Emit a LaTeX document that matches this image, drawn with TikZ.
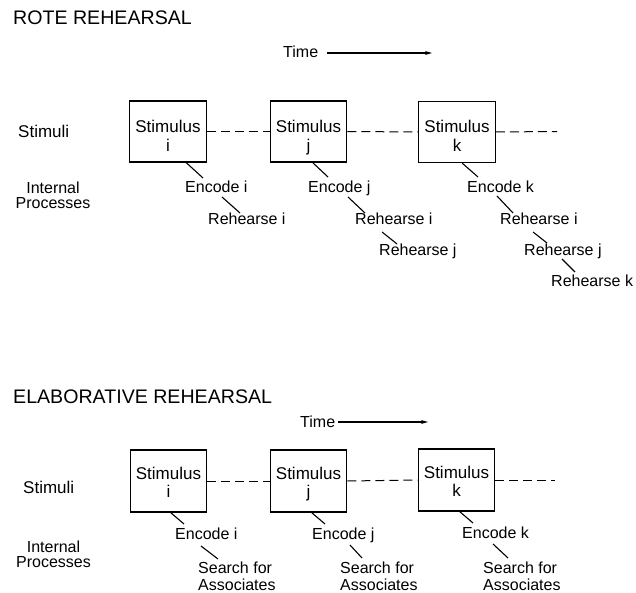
\documentclass[tikz,border=0pt]{standalone}
\usepackage{fontspec}
\setmainfont{Liberation Sans}
\usetikzlibrary{calc,arrows.meta}
\begin{document}
\begin{tikzpicture}[x=1pt,y=-1pt,
  lbl/.style={inner sep=0pt, anchor=base west, font=\fontsize{16}{17}\selectfont},
  side/.style={inner sep=0pt, anchor=base west, font=\fontsize{17}{18}\selectfont},
  proc/.style={inner sep=0pt, anchor=north, align=center, font=\fontsize{16}{15.5}\selectfont},
  sa/.style={inner sep=0pt, anchor=north west, align=left, font=\fontsize{16}{17}\selectfont},
  ttl/.style={inner sep=0pt, anchor=base west, font=\fontsize{19.6}{22}\selectfont},
  stimbox/.style={draw, line width=1.2pt, minimum width=76.5pt, minimum height=61pt, inner sep=0pt, align=center, text height=32pt, text depth=0pt, font=\fontsize{17}{18}\selectfont},
  stimboxtop/.style={stimbox, text height=40pt, font=\fontsize{17}{19}\selectfont},
  conn/.style={line width=1.1pt},
  dashline/.style={line width=1pt, dash pattern=on 9pt off 5pt},
  timearrow/.style={line width=1.2pt, -{Stealth[length=7pt,width=4pt]}},
]
\useasboundingbox (0,0) rectangle (636,593);

% ---------------- ROTE REHEARSAL ----------------
\node[ttl] (t1) at (13,25) {ROTE REHEARSAL};
\node[lbl] (time1) at (283,58) {Time};
\coordinate (tend1) at (432,53);
\draw[timearrow] ($(time1.base east)+(8.5,-5)$) -- (tend1);

\node[side] (stim1) at (18,138) {Stimuli};
\node[proc] (ip1) at (53,181.5) {Internal\\Processes};

\node[stimboxtop] (si) at (168,131.5) {Stimulus\\i};
\node[stimboxtop] (sj) at (308.5,131.5) {Stimulus\\j};
\node[stimboxtop] (sk) at (457,132) {Stimulus\\k};
\coordinate (dend1) at (557,131.5);
\draw[dashline] (si.east) -- (sj.west);
\draw[dashline] (sj.east) -- (sk.west);
\draw[dashline] (sk.east) -- (dend1);

\node[lbl] (ei) at (185,193) {Encode i};
\node[lbl] (ri1) at (208,225) {Rehearse i};
\node[lbl] (ej) at (308,193) {Encode j};
\node[lbl] (rij) at (355,225) {Rehearse i};
\node[lbl] (rjj) at (379,256) {Rehearse j};
\node[lbl] (ek) at (467,193) {Encode k};
\node[lbl] (rik) at (500,225) {Rehearse i};
\node[lbl] (rjk) at (524,256) {Rehearse j};
\node[lbl] (rkk) at (551,287) {Rehearse k};

\draw[conn] ($(si.south west)+(57,0)$) -- ($(ei.base west)+(18,-15)$);
\draw[conn] ($(ei.base west)+(37,4)$) -- ($(ri1.base west)+(32,-12)$);
\draw[conn] ($(sj.south west)+(43,0)$) -- ($(ej.base west)+(20,-16)$);
\draw[conn] ($(ej.base west)+(40,4)$) -- ($(rij.base west)+(10,-12)$);
\draw[conn] ($(rij.base west)+(27,7)$) -- ($(rjj.base west)+(18,-12)$);
\draw[conn] ($(sk.south west)+(44,0)$) -- ($(ek.base west)+(11,-16)$);
\draw[conn] ($(ek.base west)+(30,3)$) -- ($(rik.base west)+(13,-12)$);
\draw[conn] ($(rik.base west)+(33,7)$) -- ($(rjk.base west)+(23,-13)$);
\draw[conn] ($(rjk.base west)+(38,3)$) -- ($(rkk.base west)+(24,-15)$);

% ---------------- ELABORATIVE REHEARSAL ----------------
\node[ttl] (t2) at (13,403) {ELABORATIVE REHEARSAL};
\node[lbl] (time2) at (300,427) {Time};
\coordinate (tend2) at (428,422);
\draw[timearrow] ($(time2.base east)+(2.5,-5)$) -- (tend2);

\node[side] (stim2) at (23,493) {Stimuli};
\node[proc] (ip2) at (53.5,540.5) {Internal\\Processes};

\node[stimbox, minimum height=62pt] (si2) at (168.5,481) {Stimulus\\i};
\node[stimbox, minimum height=62pt] (sj2) at (308.5,481) {Stimulus\\j};
\node[stimbox, minimum height=62pt] (sk2) at (456.5,480) {Stimulus\\k};
\coordinate (dend2) at (555,480);
\draw[dashline] (si2.east) -- (sj2.west);
\draw[dashline] (sj2.east) -- (sk2.west);
\draw[dashline] (sk2.east) -- (dend2);

\node[lbl] (ei2) at (175,539) {Encode i};
\node[lbl] (ej2) at (312,539) {Encode j};
\node[lbl] (ek2) at (462,538) {Encode k};
\node[sa] (sa1) at (198,561.5) {Search for\\Associates};
\node[sa] (sa2) at (340,561.5) {Search for\\Associates};
\node[sa] (sa3) at (483,561.5) {Search for\\Associates};

\draw[conn] ($(si2.south west)+(41,0)$) -- ($(ei2.base west)+(9,-15)$);
\draw[conn] ($(ei2.base west)+(26,7)$) -- ($(sa1.north west)+(20,-2.5)$);
\draw[conn] ($(sj2.south west)+(42,0)$) -- ($(ej2.base west)+(13,-15)$);
\draw[conn] ($(ej2.base west)+(38,6)$) -- ($(sa2.north west)+(22,-3.5)$);
\draw[conn] ($(sk2.south west)+(42,0)$) -- ($(ek2.base west)+(11,-15)$);
\draw[conn] ($(ek2.base west)+(31,6)$) -- ($(sa3.north west)+(25,-3.5)$);
\end{tikzpicture}
\end{document}
